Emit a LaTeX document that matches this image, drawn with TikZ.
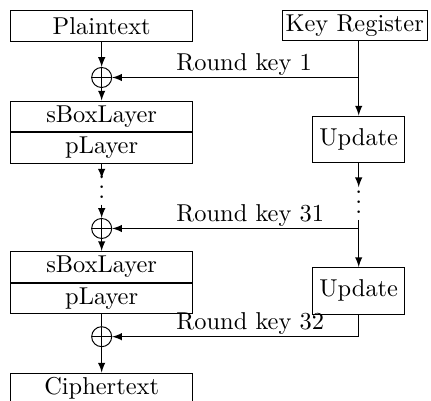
\documentclass[tikz,border=0pt]{standalone}
\usetikzlibrary{arrows}
\tikzset{
	block/.style={draw=black, minimum width=2.621cm, minimum height=0.44cm, inner ysep=1pt},
	keyblock/.style={draw=black, minimum width=2.074cm, minimum height=0.436cm, inner xsep=1.5pt, inner ysep=1pt},
	update/.style={draw=black, minimum width=1.329cm, minimum height=0.67cm, inner xsep=2pt},
	xorop/.style={draw=black, circle, minimum size=0.288cm, inner sep=0pt,
		path picture={\draw (path picture bounding box.north) -- (path picture bounding box.south)
			(path picture bounding box.west) -- (path picture bounding box.east);}},
	dotsnode/.style={inner sep=0pt, text depth=2.5pt, text height=#1},
	dotsnode/.default=10.5pt,
	roundkey/.style={anchor=south west, inner sep=0.5pt, pos=#1}
}
\begin{document}
\begin{tikzpicture}[>=latex, y=-1cm]

	\useasboundingbox (0, 0) rectangle (6.206, 5.774);

	\node[block] (plain) at (1.464, 0.372) {Plaintext};
	\node[xorop] (xor1) at (1.464, 1.116) {};
	\node[block] (sbox1) at (1.464, 1.675) {sBoxLayer};
	\node[block] (play1) at (1.464, 2.129) {pLayer};
	\node[dotsnode=7.8pt, anchor=base] (dotsL) at (1.464, 2.853) {$\vdots$};
	\node[xorop] (xor2) at (1.464, 3.290) {};
	\node[block] (sbox2) at (1.464, 3.842) {sBoxLayer};
	\node[block] (play2) at (1.464, 4.296) {pLayer};
	\node[xorop] (xor3) at (1.464, 4.848) {};
	\node[block] (cipher) at (1.464, 5.592) {Ciphertext};

	\node[keyblock] (key) at (5.108, 0.372) {Key Register};
	\node[update] (upd1) at (5.165, 2.006) {Update};
	\node[dotsnode, anchor=base] (dotsR) at (5.165, 3.072) {$\vdots$};
	\node[update] (upd2) at (5.165, 4.187) {Update};

	\draw[->] (plain) -- (xor1);
	\draw[->] (xor1) -- (sbox1);
	\draw[->] (play1) -- (dotsL);
	\draw[->] (dotsL) -- (xor2);
	\draw[->] (xor2) -- (sbox2);
	\draw (play2) -- (xor3);
	\draw[->] (xor3) -- (cipher);

	% key schedule
	\draw[->] (upd1.north |- key.south) -- (upd1);
	\draw[->] (upd1) -- (dotsR);
	\draw[->] (dotsR) -- (upd2);

	% round keys
	\draw[->] (upd1.north |- xor1) -- node[roundkey=0.746] {Round key 1} (xor1);
	\draw[->] (dotsR.south |- xor2) -- node[roundkey=0.746] {Round key 31} (xor2);
	\draw[->] (upd2) |- node[roundkey=0.873] {Round key 32} (xor3);

\end{tikzpicture}
\end{document}
